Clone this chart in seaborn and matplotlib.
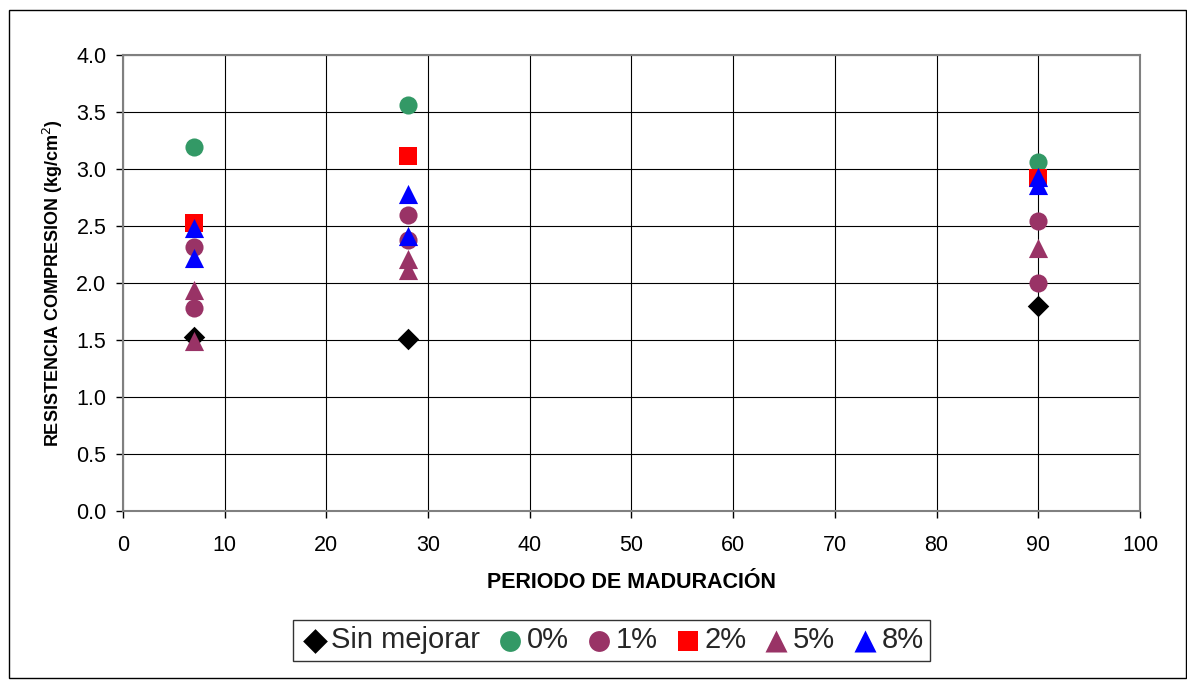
import matplotlib
matplotlib.use("Agg")
import matplotlib.pyplot as plt
from matplotlib.patches import Rectangle
import pandas as pd
import seaborn as sns

# Curing period (days) and compressive strength per mix
dias_sin = [7, 28, 90]
res_sin = [1.53, 1.51, 1.80]

dias_0 = [7, 28, 90]
res_0 = [3.19, 3.56, 3.06]

dias_1 = [7, 7, 28, 28, 90, 90]
res_1 = [2.32, 1.78, 2.60, 2.38, 2.54, 2.00]

dias_2 = [7, 28, 90]
res_2 = [2.53, 3.11, 2.92]

dias_5 = [7, 7, 28, 28, 90]
res_5 = [1.94, 1.49, 2.21, 2.11, 2.31]

dias_8 = [7, 7, 28, 28, 90, 90]
res_8 = [2.48, 2.22, 2.78, 2.41, 2.93, 2.86]

series = ["Sin mejorar", "0%", "1%", "2%", "5%", "8%"]
dias = [dias_sin, dias_0, dias_1, dias_2, dias_5, dias_8]
resist = [res_sin, res_0, res_1, res_2, res_5, res_8]

x_ticks = [0, 10, 20, 30, 40, 50, 60, 70, 80, 90, 100]
y_ticks = [0.0, 0.5, 1.0, 1.5, 2.0, 2.5, 3.0, 3.5, 4.0]

rows = []
for name, xs, ys in zip(series, dias, resist):
    for x, y in zip(xs, ys):
        rows.append({"serie": name, "dias": x, "resistencia": y})
df = pd.DataFrame(rows)

palette = {"Sin mejorar": "#000000", "0%": "#339966", "1%": "#993366",
           "2%": "#FF0000", "5%": "#993366", "8%": "#0000FF"}
markers = {"Sin mejorar": "D", "0%": "o", "1%": "o",
           "2%": "s", "5%": "^", "8%": "^"}
sizes = {"Sin mejorar": 120, "0%": 170, "1%": 170, "2%": 150, "5%": 190, "8%": 190}

sns.set_theme(style="white")
plt.rcParams["font.family"] = ["Liberation Sans", "DejaVu Sans"]

fig = plt.figure(figsize=(11.87, 6.81), dpi=100)
ax = fig.add_axes([0.1036, 0.2496, 0.8568, 0.6696])

for name in series:
    sub = df[df["serie"] == name]
    sns.scatterplot(data=sub, x="dias", y="resistencia", ax=ax,
                    color=palette[name], marker=markers[name],
                    s=sizes[name], linewidth=0, label=name, zorder=3)

ax.set_xlim(0, 100)
ax.set_ylim(0, 4.0)
ax.set_xticks(x_ticks)
ax.set_yticks(y_ticks)
ax.set_xticklabels([str(t) for t in x_ticks])
ax.set_yticklabels([f"{t:.1f}" for t in y_ticks])
ax.grid(True, color="#000000", linewidth=0.8)
ax.set_axisbelow(True)
for side in ["top", "right", "left", "bottom"]:
    ax.spines[side].set_color("#808080")
    ax.spines[side].set_linewidth(1.5)
ax.tick_params(axis="both", which="major", direction="out", length=5,
               width=1, color="#000000", labelsize=15.5, labelcolor="#000000",
               bottom=True, left=True)
ax.tick_params(axis="x", pad=12)
ax.tick_params(axis="y", pad=7)

ax.set_xlabel("PERIODO DE MADURACIÓN", fontsize=15.5, fontweight="bold",
              color="#000000", labelpad=12)
ax.set_ylabel("RESISTENCIA COMPRESION (kg/cm$^2$)", fontsize=13,
              fontweight="bold", color="#000000", labelpad=8)

if ax.get_legend():
    ax.get_legend().remove()
handles, labels = ax.get_legend_handles_labels()
leg = fig.legend(handles, labels, loc="center", ncol=6,
                 bbox_to_anchor=(0.5153, 0.0595), frameon=True,
                 fontsize=21, handletextpad=0.05, columnspacing=0.5,
                 borderpad=0.22, handlelength=1.05, fancybox=False,
                 markerscale=1.15)
leg.get_frame().set_edgecolor("#000000")
leg.get_frame().set_linewidth(1.0)

fig.patches.append(Rectangle((9 / 1187, 3 / 681), 1177 / 1187, 668 / 681,
                             transform=fig.transFigure, fill=False,
                             edgecolor="#000000", linewidth=1.0))

fig.savefig("out.png", dpi=100)
